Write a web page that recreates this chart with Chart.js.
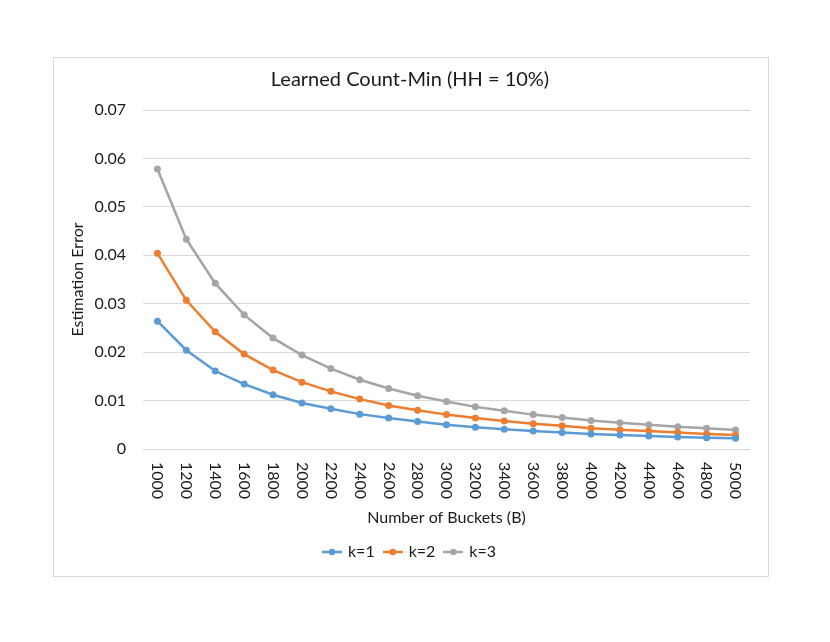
<!DOCTYPE html>
<html>
<head>
<meta charset="utf-8">
<script src="https://cdn.jsdelivr.net/npm/chart.js@4"></script>
<style>
  html, body { margin: 0; padding: 0; background: #fff; }
  #box {
    position: absolute; left: 53px; top: 57px;
    width: 714px; height: 518px;
    border: 1px solid #d9d9d9;
  }
</style>
</head>
<body>
<div id="box"><canvas id="errorChart" width="714" height="518"></canvas></div>
<script>
  // values
  var buckets = ['1000', '1200', '1400', '1600', '1800', '2000', '2200', '2400', '2600', '2800', '3000',
                 '3200', '3400', '3600', '3800', '4000', '4200', '4400', '4600', '4800', '5000'];
  var k1 = [0.0264, 0.0204, 0.0161, 0.0134, 0.0112, 0.0095, 0.0083, 0.0072, 0.0064, 0.0057, 0.0050,
            0.0045, 0.0041, 0.0037, 0.0034, 0.0031, 0.0029, 0.0027, 0.0025, 0.0023, 0.0022];
  var k2 = [0.0404, 0.0307, 0.0242, 0.0196, 0.0163, 0.0138, 0.0119, 0.0103, 0.0090, 0.0080, 0.0071,
            0.0064, 0.0058, 0.0052, 0.0048, 0.0043, 0.0040, 0.0037, 0.0034, 0.0031, 0.0029];
  var k3 = [0.0578, 0.0433, 0.0342, 0.0277, 0.0229, 0.0194, 0.0166, 0.0143, 0.0125, 0.0110, 0.0098,
            0.0087, 0.0079, 0.0071, 0.0065, 0.0059, 0.0054, 0.0050, 0.0046, 0.0043, 0.0039];
  var yTicks = ['0', '0.01', '0.02', '0.03', '0.04', '0.05', '0.06', '0.07'];

  var FONT = 'Lato, "Open Sans", sans-serif';
  var TEXT = '#1a1a1a';

  // little line-with-dot marker for the legend
  function legendMarker(color) {
    var c = document.createElement('canvas');
    c.width = 20; c.height = 10;
    var g = c.getContext('2d');
    g.strokeStyle = color; g.lineWidth = 2.5;
    g.beginPath(); g.moveTo(0, 5); g.lineTo(20, 5); g.stroke();
    g.fillStyle = color;
    g.beginPath(); g.arc(10, 5, 3.2, 0, Math.PI * 2); g.fill();
    return c;
  }

  // x labels in the reference read top-to-bottom (rotated clockwise)
  var verticalLabels = {
    id: 'verticalLabels',
    afterDraw: function (chart) {
      var scale = chart.scales.x;
      var ctx = chart.ctx;
      ctx.save();
      ctx.fillStyle = TEXT;
      ctx.font = '16px ' + FONT;
      ctx.textAlign = 'left';
      ctx.textBaseline = 'middle';
      scale.ticks.forEach(function (t, i) {
        ctx.save();
        ctx.translate(scale.getPixelForTick(i), scale.top + 13);
        ctx.rotate(Math.PI / 2);
        ctx.fillText(buckets[i], 0, 0);
        ctx.restore();
      });
      ctx.restore();
    }
  };

  function series(label, data, color) {
    return {
      label: label,
      data: data,
      borderColor: color,
      backgroundColor: color,
      borderWidth: 2.5,
      pointRadius: 3.5,
      pointHoverRadius: 3.5,
      pointBorderWidth: 0,
      tension: 0,
      marker: legendMarker(color)
    };
  }

  var ctx = document.getElementById('errorChart').getContext('2d');
  var errorChart = new Chart(ctx, {
    type: 'line',
    data: {
      labels: buckets,
      datasets: [
        series('k=1', k1, '#5b9bd5'),
        series('k=2', k2, '#ed7d31'),
        series('k=3', k3, '#a5a5a5')
      ]
    },
    options: {
      responsive: false,
      animation: false,
      layout: { padding: { left: 10, right: 12, top: 0, bottom: 6 } },
      plugins: {
        title: {
          display: true,
          text: 'Learned Count-Min (HH = 10%)',
          color: TEXT,
          font: { family: FONT, size: 20, weight: 'normal' },
          padding: { top: 10, bottom: 18 }
        },
        legend: {
          position: 'bottom',
          labels: {
            color: TEXT,
            font: { family: FONT, size: 16 },
            usePointStyle: true,
            boxWidth: 20,
            padding: 10,
            generateLabels: function (chart) {
              return chart.data.datasets.map(function (ds, i) {
                return {
                  text: ds.label,
                  pointStyle: ds.marker,
                  fillStyle: ds.borderColor,
                  strokeStyle: ds.borderColor,
                  lineWidth: 0,
                  fontColor: TEXT,
                  datasetIndex: i
                };
              });
            }
          }
        },
        tooltip: { enabled: false }
      },
      scales: {
        x: {
          offset: true,
          grid: { display: false },
          border: { display: false },
          afterFit: function (scale) { scale.height = 85; },
          ticks: {
            color: 'rgba(0,0,0,0)',
            font: { family: FONT, size: 16 },
            minRotation: 90,
            maxRotation: 90,
            autoSkip: false,
            padding: 13
          },
          title: {
            display: true,
            text: 'Number of Buckets (B)',
            color: TEXT,
            font: { family: FONT, size: 16 },
            padding: { top: 4, bottom: 7 }
          }
        },
        y: {
          min: 0,
          max: 0.07,
          grid: { color: '#d9d9d9', lineWidth: 1, drawTicks: false },
          border: { display: false },
          afterFit: function (scale) { scale.width = 79; },
          ticks: {
            stepSize: 0.01,
            color: TEXT,
            font: { family: FONT, size: 16 },
            padding: 17,
            callback: function (v, i) { return yTicks[i]; }
          },
          title: {
            display: true,
            text: 'Estimation Error',
            color: TEXT,
            font: { family: FONT, size: 16 },
            padding: { top: 4, bottom: 4 }
          }
        }
      }
    },
    plugins: [verticalLabels]
  });
</script>
</body>
</html>
